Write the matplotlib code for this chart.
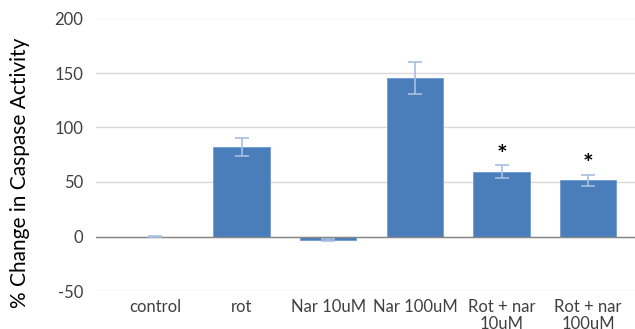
import numpy as np
import matplotlib.pyplot as plt

plt.rcParams['font.family'] = ['Lato', 'DejaVu Sans']
plt.rcParams['axes.unicode_minus'] = False

categories = ["control", "rot", "Nar 10uM", "Nar 100uM", "Rot + nar\n10uM", "Rot + nar\n100uM"]
values = [0, 82, -3.5, 145.5, 59.5, 51.5]
errors = [0.8, 8.5, 1.0, 14.5, 6.0, 5.2]
stars = ["", "", "", "", "*", "*"]

fig = plt.figure(figsize=(6.35, 3.29), dpi=100)
ax = fig.add_axes([96 / 635, 1 - 291 / 329, 1 - 96 / 635, (291 - 18.5) / 329])

x = np.arange(len(categories))
ax.bar(x, values, width=0.65, color="#4a7ebb", edgecolor="#6f9ad0", linewidth=0.6, zorder=3)
ax.errorbar(x, values, yerr=errors, fmt="none", ecolor="#a9c0e0", elinewidth=1.2,
            capsize=5, capthick=1.2, zorder=4)

# significance stars
for i, s in enumerate(stars):
    if s:
        ax.text(x[i], values[i] + errors[i] + 9, s, ha="center", va="center",
                fontsize=18, fontweight="bold", color="black", zorder=5)

ax.set_ylim(-50, 200)
ax.set_xlim(-0.68, 5.54)
ax.set_yticks([-50, 0, 50, 100, 150, 200])
ax.yaxis.grid(True, color="#d9d9d9", linewidth=1.0, zorder=0)
ax.axhline(0, color="#868686", linewidth=1.0, zorder=3.5)
ax.set_xticks(x)
ax.set_xticklabels(categories, fontsize=12, color="#404040", linespacing=1.05)
ax.tick_params(axis="y", labelsize=12, labelcolor="#404040", length=0, pad=9)
ax.tick_params(axis="x", length=0, pad=6)
for sp in ax.spines.values():
    sp.set_visible(False)

fig.text(0.032, 0.475, "% Change in Caspase Activity", rotation=90, ha="center", va="center",
         fontsize=15, color="black")

fig.savefig("out.png", dpi=100)
